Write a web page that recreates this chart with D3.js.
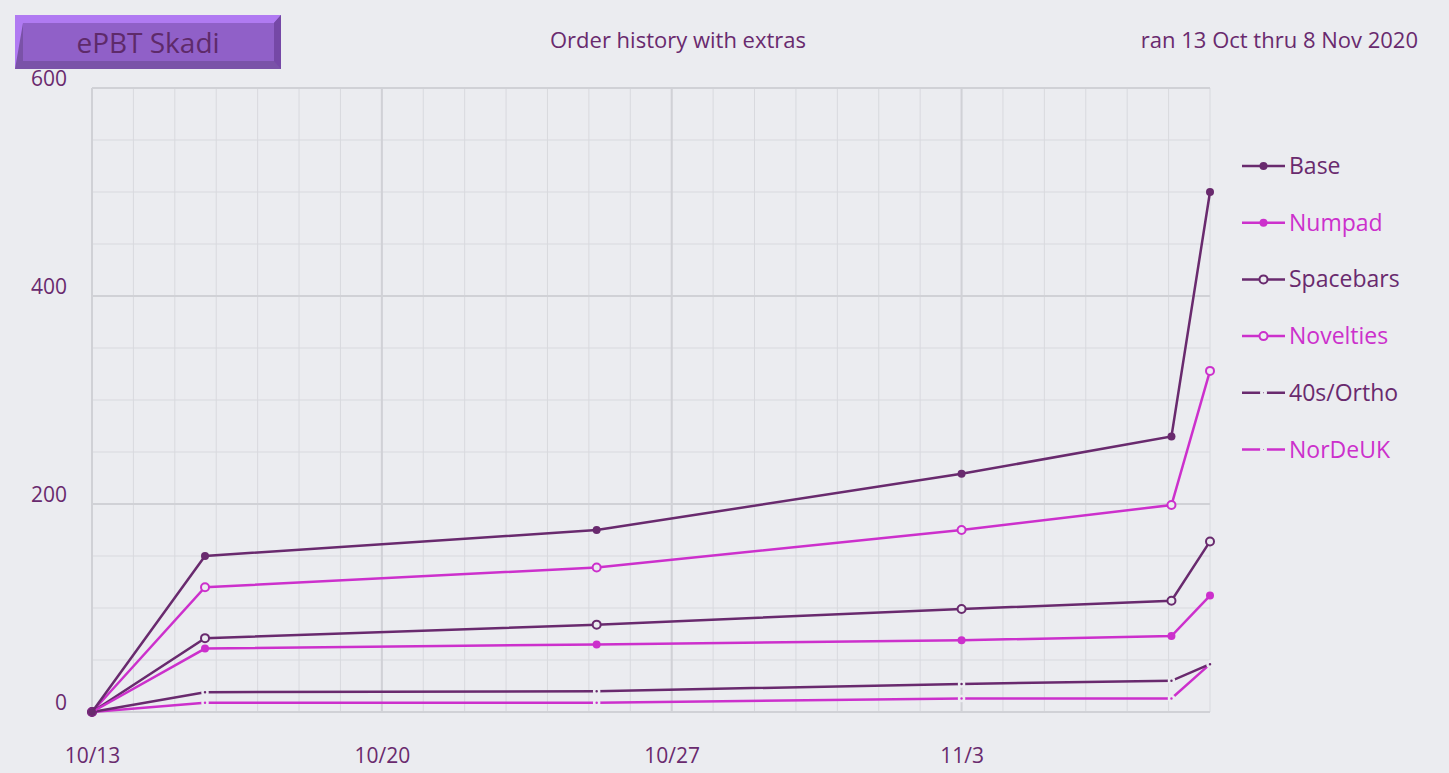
<!DOCTYPE html>
<meta charset="utf-8">
<head>
<script src="https://cdn.jsdelivr.net/npm/d3@7"></script>
<style>
  body { margin: 0; background: #ebecf0; }
  text { font-family: "Open Sans", sans-serif; }
</style>
</head>
<body>
<script>
// Data
const dates = ["2020-10-13T00:00", "2020-10-15T17:30", "2020-10-25T04:30", "2020-11-03T00:00", "2020-11-08T01:40", "2020-11-09T00:00"];
const base      = [0, 150, 175, 229, 265, 500];
const numpad    = [0, 61, 65, 69, 73, 112];
const spacebars = [0, 71, 84, 99, 107, 164];
const novelties = [0, 120, 139, 175, 199, 328];
const ortho     = [0, 19, 20, 27, 30, 46];
const nordeuk   = [0, 9, 9, 13, 13, 46];
const xTicks = ["2020-10-13", "2020-10-20", "2020-10-27", "2020-11-03"];
const yTicks = [0, 200, 400, 600];

const dark = "#692a6e", pink = "#cc30cc", bg = "#ebecf0";
const series = [
  {name: "Base", values: base, color: dark, marker: "fill"},
  {name: "Numpad", values: numpad, color: pink, marker: "fill"},
  {name: "Spacebars", values: spacebars, color: dark, marker: "open"},
  {name: "Novelties", values: novelties, color: pink, marker: "open"},
  {name: "40s/Ortho", values: ortho, color: dark, marker: "small"},
  {name: "NorDeUK", values: nordeuk, color: pink, marker: "small"}
];

const width = 1449, height = 773;
const margin = {top: 88, right: 239, bottom: 61, left: 92};
const parse = d3.timeParse("%Y-%m-%dT%H:%M");
const parseDay = d3.timeParse("%Y-%m-%d");

const svg = d3.select("body").append("svg").attr("width", width).attr("height", height);

const x = d3.scaleTime().domain([parseDay("2020-10-13"), parseDay("2020-11-09")]).range([margin.left, width - margin.right]);
const y = d3.scaleLinear().domain([0, 600]).range([height - margin.bottom, margin.top]);

// grid
const g = svg.append("g");
g.selectAll(".vminor").data(d3.timeDay.range(x.domain()[0], d3.timeDay.offset(x.domain()[1], 1)))
  .join("line").attr("x1", d => x(d)).attr("x2", d => x(d)).attr("y1", y(0)).attr("y2", y(600))
  .attr("stroke", "#d8d9de").attr("stroke-width", 1);
g.selectAll(".hminor").data(d3.range(0, 601, 50))
  .join("line").attr("x1", x.range()[0]).attr("x2", x.range()[1]).attr("y1", d => y(d)).attr("y2", d => y(d))
  .attr("stroke", "#d8d9de").attr("stroke-width", 1);
g.selectAll(".vmajor").data(xTicks.map(parseDay))
  .join("line").attr("x1", d => x(d)).attr("x2", d => x(d)).attr("y1", y(0)).attr("y2", y(600))
  .attr("stroke", "#d0d1d6").attr("stroke-width", 2);
g.selectAll(".hmajor").data(yTicks)
  .join("line").attr("x1", x.range()[0]).attr("x2", x.range()[1]).attr("y1", d => y(d)).attr("y2", d => y(d))
  .attr("stroke", "#d0d1d6").attr("stroke-width", 2);

// axes labels
svg.append("g").attr("transform", `translate(0,${y(0) + 33})`)
  .call(d3.axisBottom(x).tickValues(xTicks.map(parseDay)).tickFormat(d3.timeFormat("%-m/%-d")).tickSize(0))
  .call(a => a.select(".domain").remove())
  .selectAll("text").attr("fill", dark).attr("font-size", 21).attr("font-family", "Open Sans");
svg.append("g").attr("transform", `translate(${margin.left - 22},0)`)
  .call(d3.axisLeft(y).tickValues(yTicks).tickSize(0))
  .call(a => a.select(".domain").remove())
  .selectAll("text").attr("fill", dark).attr("font-size", 21).attr("font-family", "Open Sans").attr("dy", "-0.1em");

// lines
const line = d3.line().x((d, i) => x(parse(dates[i]))).y(d => y(d));
series.slice().reverse().forEach(s => {
  svg.append("path").attr("d", line(s.values)).attr("fill", "none")
    .attr("stroke", s.color).attr("stroke-width", 2.5);
  const pts = svg.append("g").selectAll("circle").data(s.values).join("circle")
    .attr("cx", (d, i) => x(parse(dates[i]))).attr("cy", d => y(d));
  if (s.marker === "fill") pts.attr("r", 4).attr("fill", s.color);
  else if (s.marker === "open") pts.attr("r", 4).attr("fill", bg).attr("stroke", s.color).attr("stroke-width", 2);
  else pts.attr("r", 2.5).attr("fill", s.color).attr("stroke", bg).attr("stroke-width", 2.5);
});

// legend
const leg = svg.append("g").attr("transform", "translate(1242,166)");
series.forEach((s, i) => {
  const row = leg.append("g").attr("transform", `translate(0,${i * 56.7})`);
  row.append("line").attr("x1", 0).attr("x2", 43).attr("stroke", s.color).attr("stroke-width", 2.5);
  const c = row.append("circle").attr("cx", 21.5).attr("cy", 0);
  if (s.marker === "fill") c.attr("r", 4).attr("fill", s.color);
  else if (s.marker === "open") c.attr("r", 4).attr("fill", bg).attr("stroke", s.color).attr("stroke-width", 2);
  else c.attr("r", 2).attr("fill", s.color).attr("stroke", bg).attr("stroke-width", 3);
  row.append("text").attr("x", 47).attr("dy", "0.35em").attr("fill", s.color).attr("font-size", 23).text(s.name);
});

// header
const badge = svg.append("g");
badge.append("rect").attr("x", 15).attr("y", 15).attr("width", 266).attr("height", 54).attr("fill", "#7a52a8");
badge.append("polygon").attr("points", "15,15 281,15 274,23 23,23 15,69").attr("fill", "#b07af2");
badge.append("polygon").attr("points", "281,15 281,69 274,61 274,23").attr("fill", "#7548a6");
badge.append("rect").attr("x", 23).attr("y", 23).attr("width", 251).attr("height", 38).attr("fill", "#9060c8");
badge.append("text").attr("x", 148).attr("y", 43).attr("dy", "0.35em").attr("text-anchor", "middle")
  .attr("fill", "#5e2a6a").attr("font-size", 28).text("ePBT Skadi");
svg.append("text").attr("x", 678).attr("y", 48).attr("text-anchor", "middle").attr("fill", dark)
  .attr("font-size", 22).text("Order history with extras");
svg.append("text").attr("x", 1418).attr("y", 48).attr("text-anchor", "end").attr("fill", dark)
  .attr("font-size", 22).text("ran 13 Oct thru 8 Nov 2020");
</script>
</body>
</html>
